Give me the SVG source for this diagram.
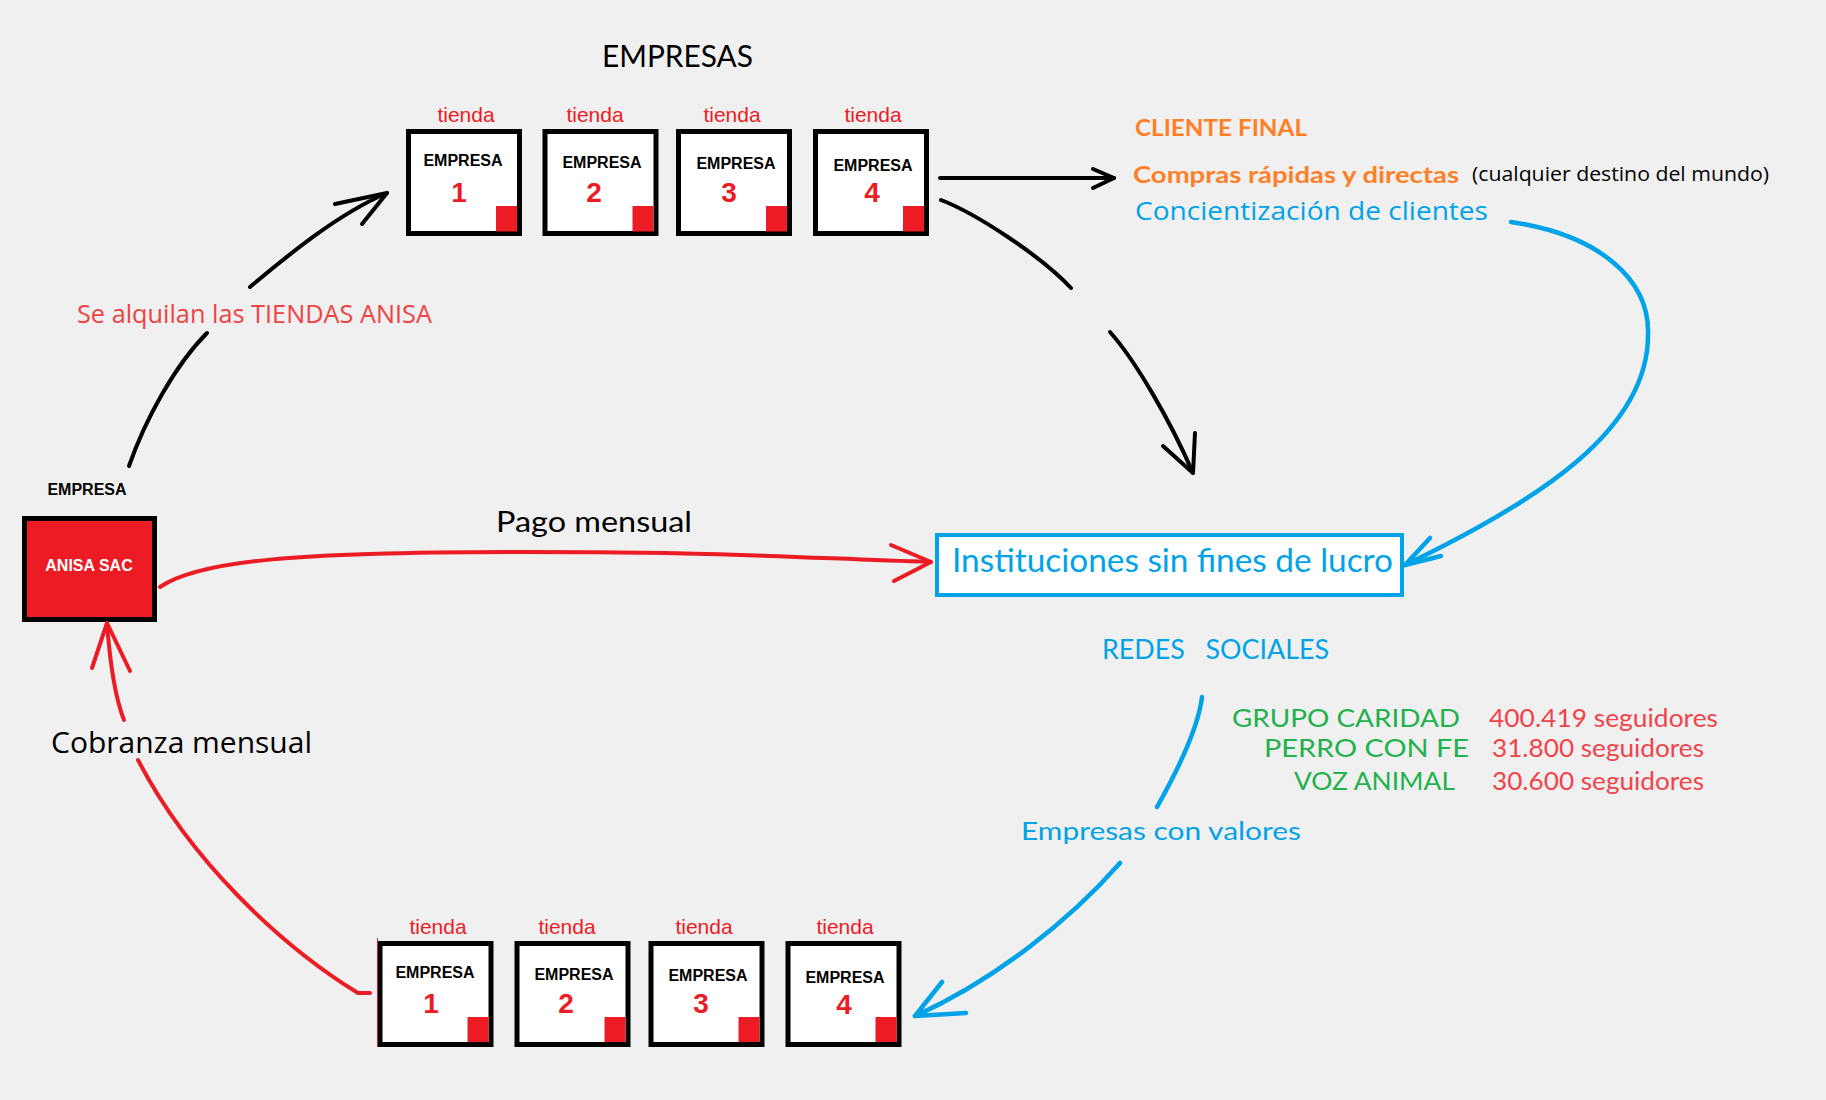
<svg xmlns="http://www.w3.org/2000/svg" width="1826" height="1100" viewBox="0 0 1826 1100">
<style>
.bg{fill:#F0F0F0}
.box{fill:#FFFFFF;stroke:#000000;stroke-width:5}
.sq{fill:#ED1C24}
.tienda{font-family:"Liberation Sans",Arial,sans-serif;font-size:21px;fill:#ED1C24;text-anchor:middle}
.emp{font-family:"Liberation Sans",Arial,sans-serif;font-size:16px;font-weight:bold;fill:#000;text-anchor:middle}
.num{font-family:"Liberation Sans",Arial,sans-serif;font-size:28px;font-weight:bold;fill:#ED1C24;text-anchor:middle}
.cal{font-family:Lato,"Open Sans",sans-serif}
.seg{font-family:"Open Sans","Noto Sans",sans-serif}
.blue{fill:#00A2E8}
.green{fill:#22B14C}
.lred{fill:#F0434A}
.orange{fill:#FF7F27;font-weight:bold}
.cb{fill:none;stroke:#000;stroke-width:4;stroke-linecap:round;stroke-linejoin:round}
.cr{fill:none;stroke:#ED1C24;stroke-width:4;stroke-linecap:round;stroke-linejoin:round}
.cbl{fill:none;stroke:#00A2E8;stroke-width:4.5;stroke-linecap:round;stroke-linejoin:round}
</style>
<rect class="bg" x="0" y="0" width="1826" height="1100"/>

<text class="cal" x="602" y="67" font-size="31" textLength="151" lengthAdjust="spacingAndGlyphs">EMPRESAS</text>

<g id="top-empresa-1">
<text class="tienda" x="466" y="122">tienda</text>
<rect class="box" x="408.5" y="131.5" width="111" height="102"/>
<rect class="sq" x="496" y="206" width="21" height="25.5"/>
<text class="emp" x="463" y="166">EMPRESA</text>
<text class="num" x="459" y="202">1</text>
</g>
<g id="top-empresa-2">
<text class="tienda" x="595" y="122">tienda</text>
<rect class="box" x="545" y="131.5" width="111" height="102"/>
<rect class="sq" x="632.5" y="206" width="21" height="25.5"/>
<text class="emp" x="602" y="168">EMPRESA</text>
<text class="num" x="594" y="202">2</text>
</g>
<g id="top-empresa-3">
<text class="tienda" x="732" y="122">tienda</text>
<rect class="box" x="678.5" y="131.5" width="111" height="102"/>
<rect class="sq" x="766" y="206" width="21" height="25.5"/>
<text class="emp" x="736" y="169">EMPRESA</text>
<text class="num" x="729" y="202">3</text>
</g>
<g id="top-empresa-4">
<text class="tienda" x="873" y="122">tienda</text>
<rect class="box" x="815.5" y="131.5" width="111" height="102"/>
<rect class="sq" x="903" y="206" width="21" height="25.5"/>
<text class="emp" x="873" y="171">EMPRESA</text>
<text class="num" x="872" y="202">4</text>
</g>

<g id="bottom-empresa-1">
<text class="tienda" x="438" y="934">tienda</text>
<rect class="box" x="380" y="943.5" width="111" height="101"/>
<rect class="sq" x="467.5" y="1017" width="21" height="25"/>
<line x1="377.5" y1="938" x2="377.5" y2="1047" stroke="#ED1C24" stroke-width="1"/>
<text class="emp" x="435" y="978">EMPRESA</text>
<text class="num" x="431" y="1013">1</text>
</g>
<g id="bottom-empresa-2">
<text class="tienda" x="567" y="934">tienda</text>
<rect class="box" x="517" y="943.5" width="111" height="101"/>
<rect class="sq" x="604.5" y="1017" width="21" height="25"/>
<text class="emp" x="574" y="980">EMPRESA</text>
<text class="num" x="566" y="1013">2</text>
</g>
<g id="bottom-empresa-3">
<text class="tienda" x="704" y="934">tienda</text>
<rect class="box" x="651" y="943.5" width="111" height="101"/>
<rect class="sq" x="738.5" y="1017" width="21" height="25"/>
<text class="emp" x="708" y="981">EMPRESA</text>
<text class="num" x="701" y="1013">3</text>
</g>
<g id="bottom-empresa-4">
<text class="tienda" x="845" y="934">tienda</text>
<rect class="box" x="788" y="943.5" width="111" height="101"/>
<rect class="sq" x="875.5" y="1017" width="21" height="25"/>
<text class="emp" x="845" y="983">EMPRESA</text>
<text class="num" x="844" y="1014">4</text>
</g>

<g id="anisa">
<text class="emp" x="87" y="495">EMPRESA</text>
<rect x="24.5" y="518.5" width="130" height="101" fill="#ED1C24" stroke="#000" stroke-width="5"/>
<text class="emp" x="89" y="571" fill="#FFFFFF" style="fill:#FFFFFF">ANISA SAC</text>
</g>

<g id="instituciones">
<rect x="937" y="535" width="465" height="60" fill="#FFFFFF" stroke="#00A2E8" stroke-width="4"/>
<text class="cal blue" x="952" y="572" font-size="32" textLength="441" lengthAdjust="spacingAndGlyphs">Instituciones sin fines de lucro</text>
</g>

<g id="cliente-final">
<text class="cal orange" x="1135" y="136" font-size="23" textLength="172" lengthAdjust="spacingAndGlyphs">CLIENTE FINAL</text>
<text class="cal orange" x="1133" y="183" font-size="23" textLength="326" lengthAdjust="spacingAndGlyphs">Compras rápidas y directas</text>
<text class="seg" x="1472" y="181" font-size="20" fill="#000" textLength="297" lengthAdjust="spacingAndGlyphs">(cualquier destino del mundo)</text>
<text class="seg blue" x="1135" y="220" font-size="25" textLength="353" lengthAdjust="spacingAndGlyphs">Concientización de clientes</text>
</g>

<g id="redes-sociales">
<text class="cal blue" x="1102" y="659" font-size="27" xml:space="preserve" textLength="227" lengthAdjust="spacingAndGlyphs">REDES   SOCIALES</text>
<text class="cal green" x="1232" y="727" font-size="25" textLength="228" lengthAdjust="spacingAndGlyphs">GRUPO CARIDAD</text>
<text class="cal green" x="1264" y="757" font-size="25" textLength="205" lengthAdjust="spacingAndGlyphs">PERRO CON FE</text>
<text class="cal green" x="1294" y="790" font-size="25" textLength="161" lengthAdjust="spacingAndGlyphs">VOZ ANIMAL</text>
<text class="cal lred" x="1489" y="727" font-size="25" textLength="229" lengthAdjust="spacingAndGlyphs">400.419 seguidores</text>
<text class="cal lred" x="1492" y="757" font-size="25" textLength="212" lengthAdjust="spacingAndGlyphs">31.800 seguidores</text>
<text class="cal lred" x="1492" y="790" font-size="25" textLength="212" lengthAdjust="spacingAndGlyphs">30.600 seguidores</text>
</g>

<g id="connectors">
<path class="cb" d="M129,466 C145,420 175,365 207,333"/>
<path class="cb" d="M250,287 C280,262 335,215 387,193"/>
<path class="cb" d="M335,204 L387,193 L362,224"/>
<path class="cb" d="M940,178 L1114,178"/>
<path class="cb" d="M1093,169 L1114,178 L1093,188"/>
<path class="cb" d="M941,200 C975,213 1040,255 1071,288"/>
<path class="cb" d="M1110,332 C1135,360 1170,420 1193,473"/>
<path class="cb" d="M1163,446 L1193,473 L1195,433"/>
<path class="cr" d="M160,587 C200,560 300,552 520,552 S800,558 931,562"/>
<path class="cr" d="M891,545 L931,562 L894,581"/>
<path class="cr" d="M370,993 L358,993 C280,945 190,860 138,760"/>
<path class="cr" d="M124,720 Q112,690 107,623"/>
<path class="cr" d="M92,668 L107,623 L130,671"/>
<path class="cbl" d="M1511,222 C1600,235 1650,280 1648,335 C1648,430 1540,500 1405,565"/>
<path class="cbl" d="M1430,538 L1405,565 L1441,556"/>
<path class="cbl" d="M1202,697 C1198,730 1175,775 1157,807"/>
<path class="cbl" d="M1120,863 C1070,920 995,980 915,1016"/>
<path class="cbl" d="M942,982 L915,1016 L966,1013"/>
</g>

<text class="seg" x="77" y="323" font-size="25" fill="#EF4242" textLength="355" lengthAdjust="spacingAndGlyphs">Se alquilan las TIENDAS ANISA</text>
<text class="cal" x="496" y="532" font-size="29" fill="#000" textLength="196" lengthAdjust="spacingAndGlyphs">Pago mensual</text>
<text class="seg" x="51" y="753" font-size="29" fill="#000" textLength="261" lengthAdjust="spacingAndGlyphs">Cobranza mensual</text>
<text class="cal blue" x="1021" y="840" font-size="25" textLength="280" lengthAdjust="spacingAndGlyphs">Empresas con valores</text>
</svg>
